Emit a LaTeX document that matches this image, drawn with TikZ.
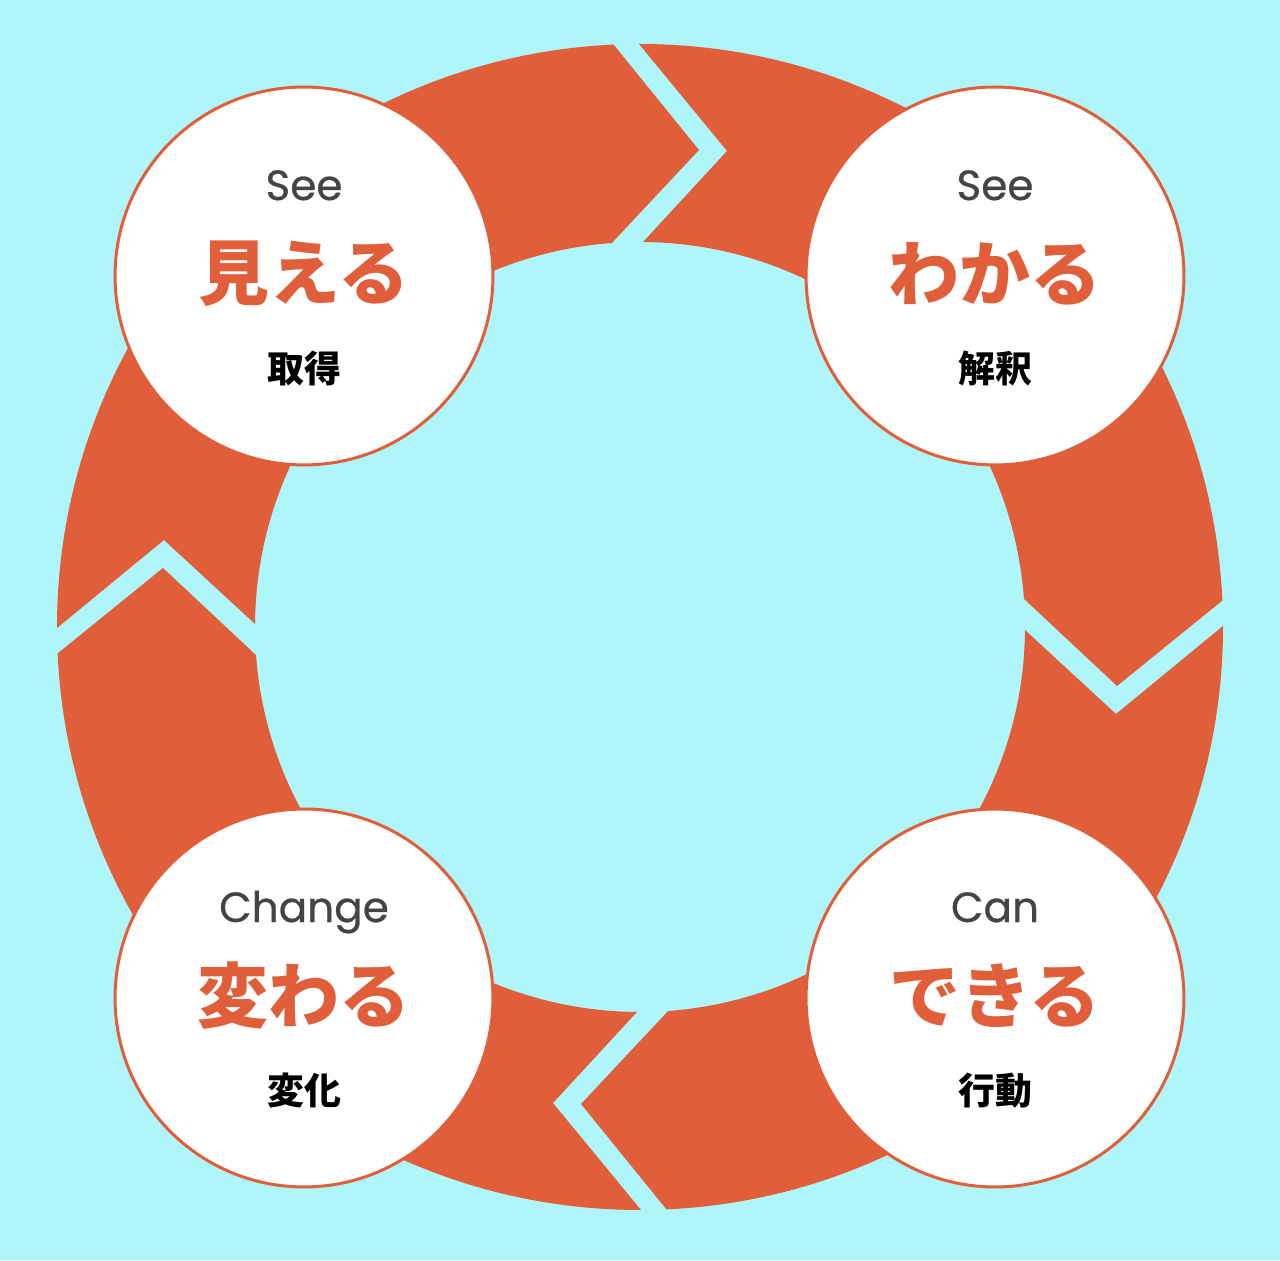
\documentclass[tikz,border=0pt]{standalone}
\usepackage{fontspec}
\setmainfont{Poppins}
\newfontfamily\jpfont{Noto Sans CJK JP}
\newfontfamily\enfont{Poppins}[FakeBold=0.6]
\usepackage{tikz}
\usetikzlibrary{positioning}

\definecolor{bgCyan}{RGB}{175,246,251}
\definecolor{ringOrange}{RGB}{224,94,57}
\definecolor{textGray}{RGB}{68,68,68}

\begin{document}
\begin{tikzpicture}[x=0.02cm, y=0.02cm,
    stage/.style={circle, draw=ringOrange, line width=0.06cm, fill=white, minimum size=7.56cm, inner sep=0pt},
    enLabel/.style={anchor=base, text=textGray, font=\enfont\fontsize{24pt}{29pt}\selectfont},
    jaLabel/.style={text=ringOrange, font=\jpfont\bfseries\fontsize{40.4pt}{48pt}\selectfont},
    subLabel/.style={text=black, font=\jpfont\bfseries\fontsize{21pt}{25pt}\selectfont}]

    \fill[bgCyan] (0,0) rectangle (1280,1260);
    \useasboundingbox (0,0) rectangle (1280,1260);

    \coordinate (ring) at (640,633);
    % four arrow segments of the cycle
    \begin{scope}[shift={(ring)}]
        \fill[ringOrange] (90.1:583) arc[start angle=90.1, end angle=2.6, radius=583] -- (477,-59)
            -- (4.2:385) arc[start angle=4.2, end angle=89.55, radius=385] -- (87,476) -- cycle;
        \fill[ringOrange, rotate=-90] (90.1:583) arc[start angle=90.1, end angle=2.6, radius=583] -- (477,-59)
            -- (4.2:385) arc[start angle=4.2, end angle=89.55, radius=385] -- (87,476) -- cycle;
        \fill[ringOrange, rotate=-180] (90.1:583) arc[start angle=90.1, end angle=2.6, radius=583] -- (477,-59)
            -- (4.2:385) arc[start angle=4.2, end angle=89.55, radius=385] -- (87,476) -- cycle;
        \fill[ringOrange, rotate=-270] (90.1:583) arc[start angle=90.1, end angle=2.6, radius=583] -- (477,-59)
            -- (4.2:385) arc[start angle=4.2, end angle=89.55, radius=385] -- (87,476) -- cycle;
    \end{scope}

    \node[stage] (mieru) at (304,984) {};
    \node[stage] (wakaru) at (995,984) {};
    \node[stage] (dekiru) at (995,262) {};
    \node[stage] (kawaru) at (304,262) {};

    \node[enLabel] (mieruEn) at ([yshift=1.52cm]mieru.center) {See};
    \node[jaLabel] (mieruJa) at ([yshift=0.05cm]mieru.center) {見える};
    \node[subLabel] (mieruSub) at ([yshift=-1.86cm]mieru.center) {取得};

    \node[enLabel] (wakaruEn) at ([yshift=1.52cm]wakaru.center) {See};
    \node[jaLabel] (wakaruJa) at ([yshift=0.05cm]wakaru.center) {わかる};
    \node[subLabel] (wakaruSub) at ([yshift=-1.86cm]wakaru.center) {解釈};

    \node[enLabel] (dekiruEn) at ([yshift=1.52cm]dekiru.center) {Can};
    \node[jaLabel] (dekiruJa) at ([yshift=0.05cm]dekiru.center) {できる};
    \node[subLabel] (dekiruSub) at ([yshift=-1.86cm]dekiru.center) {行動};

    \node[enLabel] (kawaruEn) at ([yshift=1.52cm]kawaru.center) {Change};
    \node[jaLabel] (kawaruJa) at ([yshift=0.05cm]kawaru.center) {変わる};
    \node[subLabel] (kawaruSub) at ([yshift=-1.86cm]kawaru.center) {変化};

\end{tikzpicture}
\end{document}
